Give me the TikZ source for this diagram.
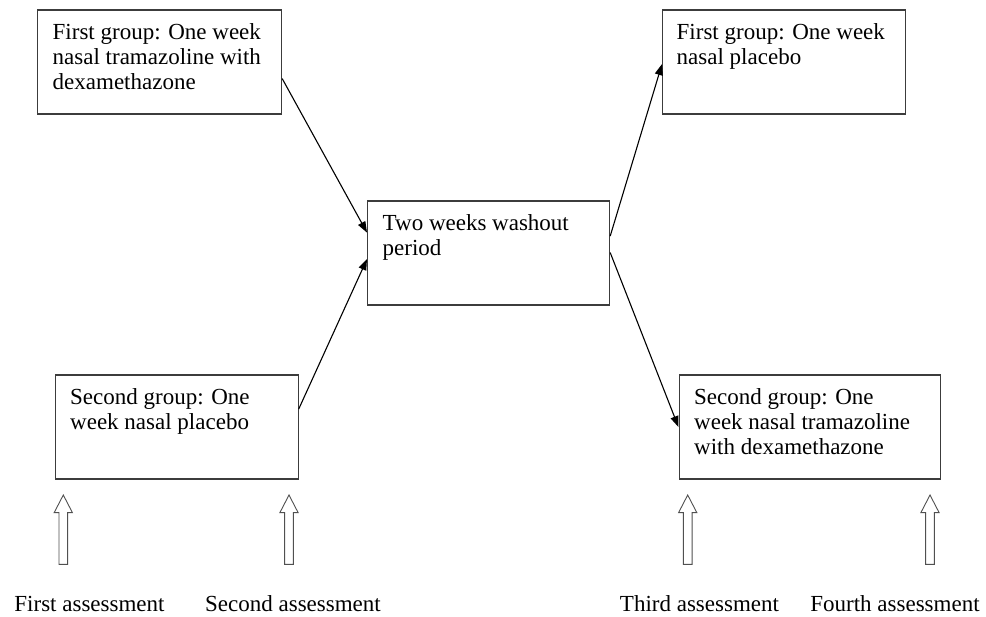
\documentclass[tikz,border=0pt]{standalone}
\usepackage{fontspec}
\setmainfont{Liberation Serif}
\usetikzlibrary{arrows.meta}
\definecolor{boxgray}{HTML}{3C3C3C}
\definecolor{arrgray}{HTML}{505050}
\begin{document}
\begin{tikzpicture}[x=1pt,y=-1pt,
  box/.style={draw=boxgray, line width=1.2pt, fill=white, minimum height=104pt, anchor=north west, inner sep=0pt},
  txt/.style={font=\fontsize{23}{25}\selectfont, align=left, inner sep=0pt, anchor=north west},
  lbl/.style={font=\fontsize{23}{25}\selectfont, inner sep=0pt, anchor=base},
  conn/.style={draw=black, line width=1.1pt, -{Triangle[length=11pt,width=8pt]}},
  hollow/.style={draw=arrgray, line width=0.9pt, fill=white, line join=miter}]
\useasboundingbox (0,0) rectangle (986,617);

% boxes
\node[box, minimum width=244pt] (b1) at (37,9.5) {};
\node[box, minimum width=242pt] (bc) at (367,200.5) {};
\node[box, minimum width=243pt] (b3) at (662,9.5) {};
\node[box, minimum width=243pt] (b2) at (54.5,374.5) {};
\node[box, minimum width=261pt] (b4) at (678.5,374.5) {};

% box texts
\node[txt] (t1) at ([shift={(15.5,12)}]b1.north west) {\strut First group: One week\\nasal tramazoline with\\dexamethazone};
\node[txt] (tc) at ([shift={(15.5,12)}]bc.north west) {\strut Two weeks washout\\period};
\node[txt] (t3) at ([shift={(14.5,12)}]b3.north west) {\strut First group: One week\\nasal placebo};
\node[txt] (t2) at ([shift={(15.5,12)}]b2.north west) {\strut Second group: One\\week nasal placebo};
\node[txt] (t4) at ([shift={(15.5,12)}]b4.north west) {\strut Second group: One\\week nasal tramazoline\\with dexamethazone};

% connectors
\draw[conn] ([shift={(0,16.5)}]b1.east) -- ([shift={(0,-20.5)}]bc.west);
\draw[conn] ([shift={(0,-18)}]b2.east) -- ([shift={(0,6)}]bc.west);
\draw[conn] ([shift={(0,-17)}]bc.east) -- ([shift={(0,2)}]b3.west);
\draw[conn] ([shift={(0,-0.5)}]bc.east) -- (b4.west);

% hollow assessment arrows
\foreach \x in {63.3, 289, 687.7, 930} {
  \draw[hollow] (\x,495) -- ({\x+9.15},512.7) -- ({\x+4.35},512.7) -- ({\x+4.35},564.3)
    -- ({\x-4.35},564.3) -- ({\x-4.35},512.7) -- ({\x-9.15},512.7) -- cycle;
}

% labels
\node[lbl] (l1) at (89.5,611.5) {First assessment};
\node[lbl] (l2) at (293,611.5) {Second assessment};
\node[lbl] (l3) at (699.5,611.5) {Third assessment};
\node[lbl] (l4) at (895,611.5) {Fourth assessment};
\end{tikzpicture}
\end{document}
